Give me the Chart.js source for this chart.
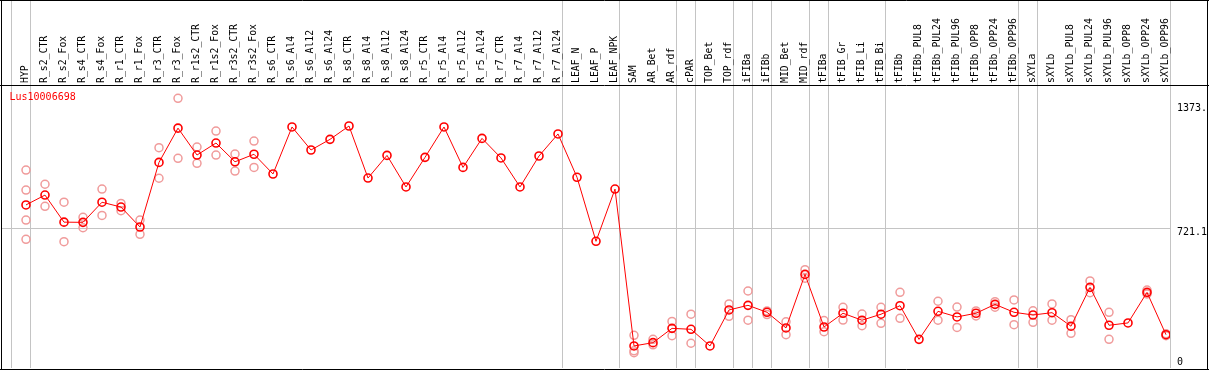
<!DOCTYPE html>
<html><head><meta charset="utf-8">
<script src="https://cdn.jsdelivr.net/npm/chart.js@4"></script>
<style>html,body{margin:0;padding:0;background:#fff;overflow:hidden}canvas{display:block}</style>
</head><body>
<canvas id="c" width="1209" height="370"></canvas>
<script>
const chartTitle = 'Lus10006698';
const categories = ['HYP','R_s2_CTR','R_s2_Fox','R_s4_CTR','R_s4_Fox','R_r1_CTR','R_r1_Fox','R_r3_CTR','R_r3_Fox',
  'R_r1s2_CTR','R_r1s2_Fox','R_r3s2_CTR','R_r3s2_Fox','R_s6_CTR','R_s6_Al4','R_s6_Al12','R_s6_Al24',
  'R_s8_CTR','R_s8_Al4','R_s8_Al12','R_s8_Al24','R_r5_CTR','R_r5_Al4','R_r5_Al12','R_r5_Al24',
  'R_r7_CTR','R_r7_Al4','R_r7_Al12','R_r7_Al24','LEAF_N','LEAF_P','LEAF_NPK','SAM','AR_Bet','AR_rdf',
  'cPAR','TOP_Bet','TOP_rdf','iFIBa','iFIBb','MID_Bet','MID_rdf','tFIBa','tFIB_Gr','tFIB_Li','tFIB_Bi',
  'tFIBb','tFIBb_PUL8','tFIBb_PUL24','tFIBb_PUL96','tFIBb_OPP8','tFIBb_OPP24','tFIBb_OPP96',
  'sXYLa','sXYLb','sXYLb_PUL8','sXYLb_PUL24','sXYLb_PUL96','sXYLb_OPP8','sXYLb_OPP24','sXYLb_OPP96'];
const meanValues = [843,894,754,753,857,832,729,1063,1240,1101,1163,1066,1105,1003,1246,1127,1182,
  1251,982,1099,936,1089,1246,1037,1187,1086,936,1096,1210,986,655,925,114,131,205,
  200,114,300,324,288,207,484,212,283,247,278,
  322,148,293,264,283,329,288,
  274,286,216,417,221,233,391,172];
const rep1 = [1023,950,857,779,925,851,765,1139,1394,1142,1225,1106,1173,null,null,null,null,
  null,null,null,null,null,null,null,null,null,null,null,null,null,null,null,169,148,241,
  278,null,331,398,295,239,508,245,314,279,314,
  391,null,345,315,295,343,352,
  296,331,250,450,288,null,403,177];
const rep2 = [920,836,653,725,789,813,691,981,1084,1058,1101,1018,1037,null,null,null,null,
  null,null,null,null,null,null,null,null,null,null,null,null,null,null,null,89,120,167,
  128,null,267,247,276,172,464,188,248,219,231,
  257,null,247,210,269,314,224,
  236,247,179,389,148,null,383,167];
const rep3 = [765,null,null,null,null,null,null,null,null,null,null,null,null,null,null,null,null,
  null,null,null,null,null,null,null,null,null,null,null,null,null,null,null,79];
const rep4 = [665];
const groupEnds = [-1,0,28,31,34,35,37,38,39,41,42,45,52,53,60];
const yTickValues = [0, 721.1, 1373];
const yTickLabels = ['0', '721.1', '1373.'];

const X_MIN = -1.263, X_MAX = 60.21, Y_MIN = 0, Y_MAX = 1463, SEP_OFFSET = 0.226;
const RED = '#ff0000', PINK = 'rgb(240,155,155)', GRID = '#c4c4c4';
const MONO = '"DejaVu Sans Mono", monospace';

const toPts = arr => arr.map((v, i) => (v == null ? null : {x: i, y: v})).filter(p => p);
const noPad = (s) => { s.paddingLeft = 0; s.paddingRight = 0; s.paddingTop = 0; s.paddingBottom = 0; };

const framePlugin = {
  id: 'frame',
  afterDraw(chart) {
    const {ctx, chartArea: a, width, height} = chart;
    ctx.save();
    ctx.strokeStyle = '#000';
    ctx.lineWidth = 1;
    ctx.beginPath();
    ctx.moveTo(0, 0.5); ctx.lineTo(width, 0.5);
    ctx.moveTo(0, a.top + 0.5); ctx.lineTo(width, a.top + 0.5);
    ctx.moveTo(0, a.bottom + 1.5); ctx.lineTo(width, a.bottom + 1.5);
    ctx.moveTo(a.left - 0.5, 0); ctx.lineTo(a.left - 0.5, height);
    ctx.moveTo(width - 1.5, 0); ctx.lineTo(width - 1.5, height);
    ctx.stroke();
    ctx.fillStyle = RED;
    ctx.font = '10px ' + MONO;
    ctx.textBaseline = 'middle';
    ctx.textAlign = 'left';
    ctx.fillText(chartTitle, a.left + 7.5, a.top + 12);
    ctx.restore();
  }
};

const repDataset = (arr) => ({
  type: 'scatter', data: toPts(arr), showLine: false, order: 2,
  pointStyle: 'circle', pointRadius: 4, pointHoverRadius: 4, pointBorderWidth: 1.5,
  pointBorderColor: PINK, pointBackgroundColor: 'rgba(0,0,0,0)'
});

new Chart(document.getElementById('c'), {
  type: 'line',
  data: {
    datasets: [
      {
        data: toPts(meanValues), borderColor: RED, borderWidth: 1, order: 1,
        pointStyle: 'circle', pointRadius: 4, pointHoverRadius: 4, pointBorderWidth: 1.6,
        pointBorderColor: RED, pointBackgroundColor: 'rgba(0,0,0,0)', tension: 0, fill: false
      },
      repDataset(rep1), repDataset(rep2), repDataset(rep3), repDataset(rep4)
    ]
  },
  options: {
    responsive: false, animation: false,
    layout: {autoPadding: false, padding: {left: 2, right: 2, top: 0, bottom: 2}},
    plugins: {legend: {display: false}, tooltip: {enabled: false}, title: {display: false}},
    scales: {
      x: {
        type: 'linear', position: 'top', min: X_MIN, max: X_MAX, bounds: 'data',
        afterBuildTicks: (s) => {
          const t = [];
          categories.forEach((c, i) => t.push({value: i}));
          groupEnds.forEach(g => t.push({value: g + SEP_OFFSET}));
          t.sort((a, b) => a.value - b.value);
          s.ticks = t;
        },
        afterFit: (s) => { s.height = 85; noPad(s); },
        ticks: {
          autoSkip: false, minRotation: 90, maxRotation: 90, padding: -83, labelOffset: 11.5,
          color: '#000', font: {family: MONO, size: 9.8},
          callback: (v) => (Number.isInteger(v) && categories[v] !== undefined ? categories[v] : '')
        },
        grid: {
          drawTicks: true, tickLength: 85, lineWidth: 1,
          color: (ctx) => (ctx.tick && !Number.isInteger(ctx.tick.value) ? GRID : 'rgba(0,0,0,0)')
        },
        border: {display: false}
      },
      y: {
        type: 'linear', position: 'right', min: Y_MIN, max: Y_MAX, bounds: 'data',
        afterBuildTicks: (s) => { s.ticks = yTickValues.map(v => ({value: v})); },
        afterFit: (s) => { s.width = 37; noPad(s); },
        ticks: {
          crossAlign: 'near', padding: 7, color: '#000',
          font: {family: MONO, size: 10, lineHeight: 0.4},
          callback: (v, i) => {
            const lbl = yTickLabels[i];
            if (i === 0) return [lbl, '', '', ''];
            if (i === yTickLabels.length - 1) return ['', '', '', lbl];
            return ['', '', lbl];
          }
        },
        grid: {
          drawTicks: false, lineWidth: 1,
          color: (ctx) => (ctx.tick && ctx.tick.value === yTickValues[1] ? GRID : 'rgba(0,0,0,0)')
        },
        border: {display: false}
      }
    }
  },
  plugins: [framePlugin]
});
</script>
</body></html>
